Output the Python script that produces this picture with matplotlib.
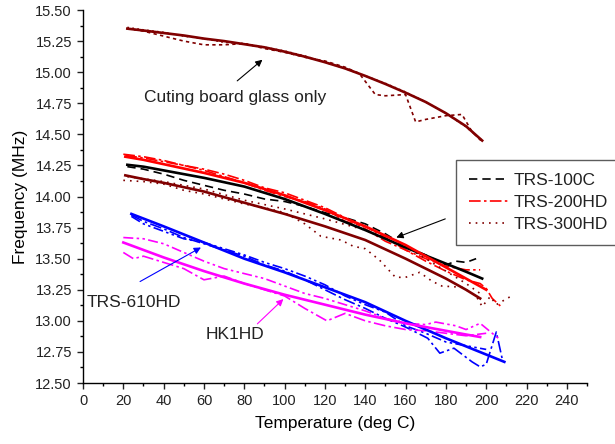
import matplotlib
matplotlib.use("Agg")
import matplotlib.pyplot as plt
from matplotlib.ticker import MultipleLocator, FormatStrFormatter

plt.rcParams['font.family'] = ['Liberation Sans', 'DejaVu Sans']

# ---- fitted (solid) curves ----
glass_fit_x = [22, 30, 40, 50, 60, 70, 80, 90, 100, 110, 120, 130, 140, 150, 160, 170, 180, 190, 198]
glass_fit_y = [15.35, 15.335, 15.315, 15.295, 15.27, 15.25, 15.225, 15.20, 15.165, 15.125, 15.08, 15.03,
               14.97, 14.905, 14.835, 14.76, 14.67, 14.565, 14.45]
black_fit_x = [22, 30, 40, 50, 60, 70, 80, 90, 100, 110, 120, 130, 140, 150, 160, 170, 180, 190, 198]
black_fit_y = [14.255, 14.24, 14.21, 14.18, 14.15, 14.115, 14.08, 14.03, 13.98, 13.92, 13.86, 13.795,
               13.73, 13.66, 13.59, 13.525, 13.46, 13.395, 13.34]
red_fit_x = [21, 30, 40, 50, 60, 70, 80, 90, 100, 110, 120, 130, 140, 150, 160, 170, 180, 190, 200]
red_fit_y = [14.32, 14.295, 14.26, 14.225, 14.19, 14.15, 14.11, 14.06, 14.01, 13.95, 13.89, 13.825,
             13.76, 13.685, 13.61, 13.52, 13.43, 13.34, 13.25]
dred_fit_x = [21, 30, 40, 50, 60, 70, 80, 90, 100, 110, 120, 130, 140, 150, 160, 170, 180, 190, 197]
dred_fit_y = [14.17, 14.14, 14.11, 14.075, 14.04, 13.995, 13.95, 13.905, 13.86, 13.81, 13.76, 13.705,
              13.65, 13.575, 13.50, 13.42, 13.34, 13.25, 13.18]
blue_fit_x = [24, 40, 60, 80, 100, 120, 140, 160, 180, 209]
blue_fit_y = [13.86, 13.76, 13.63, 13.50, 13.39, 13.27, 13.15, 13.00, 12.86, 12.67]
mag_fit_x = [20, 30, 40, 50, 60, 70, 80, 90, 100, 110, 120, 130, 140, 150, 160, 170, 180, 190, 197]
mag_fit_y = [13.63, 13.57, 13.51, 13.455, 13.40, 13.35, 13.30, 13.255, 13.21, 13.17, 13.13, 13.09,
             13.05, 13.015, 12.98, 12.95, 12.92, 12.89, 12.87]

# ---- measured series ----
glassA_x = [22, 30, 40, 50, 60, 70, 80, 90, 100, 110, 120, 130, 140, 150, 160, 170, 180, 190, 198]
glassA_y = [15.36, 15.34, 15.32, 15.29, 15.27, 15.24, 15.23, 15.20, 15.17, 15.13, 15.08, 15.03, 14.97, 14.91, 14.84, 14.76, 14.67, 14.56, 14.45]
glassB_x = [22, 30, 40, 50, 60, 70, 80, 90, 100, 110, 120, 130, 137, 145, 150, 160, 165, 170, 180, 188, 193, 198]
glassB_y = [15.35, 15.33, 15.29, 15.25, 15.22, 15.22, 15.23, 15.19, 15.16, 15.12, 15.09, 15.04, 14.99, 14.82, 14.81, 14.82, 14.60, 14.62, 14.65, 14.66, 14.52, 14.44]

black_m_x = [22, 30, 40, 50, 60, 70, 80, 90, 100, 110, 120, 130, 140, 150, 160, 170, 180, 185, 190, 195]
black_m_y = [14.24, 14.22, 14.18, 14.13, 14.09, 14.05, 14.02, 13.98, 13.96, 13.92, 13.87, 13.83, 13.78, 13.70, 13.60, 13.53, 13.45, 13.48, 13.47, 13.50]

red1_x = [20, 30, 40, 50, 60, 70, 80, 90, 100, 110, 120, 130, 140, 150, 160, 170, 180, 190, 197, 200, 203, 207]
red1_y = [14.34, 14.32, 14.29, 14.25, 14.21, 14.16, 14.11, 14.05, 14.00, 13.96, 13.90, 13.80, 13.76, 13.67, 13.57, 13.48, 13.40, 13.33, 13.30, 13.26, 13.18, 13.12]
red2_x = [21, 30, 40, 50, 60, 70, 80, 90, 100, 110, 120, 130, 140, 150, 160, 170, 180, 190, 197]
red2_y = [14.33, 14.31, 14.28, 14.25, 14.22, 14.18, 14.13, 14.07, 14.03, 13.97, 13.91, 13.83, 13.74, 13.64, 13.57, 13.50, 13.44, 13.41, 13.41]

dred1_x = [20, 30, 40, 50, 60, 70, 80, 90, 100, 110, 118, 128, 134, 140, 147, 151, 155, 160, 167, 173, 178, 188, 195, 198, 202, 205, 212]
dred1_y = [14.13, 14.12, 14.10, 14.05, 14.02, 13.98, 13.94, 13.91, 13.87, 13.78, 13.68, 13.65, 13.60, 13.58, 13.49, 13.42, 13.35, 13.35, 13.39, 13.32, 13.28, 13.27, 13.20, 13.115, 13.195, 13.13, 13.195]
dred2_x = [22, 40, 60, 80, 100, 120, 140, 160, 170, 180, 190, 197]
dred2_y = [14.16, 14.12, 14.06, 13.97, 13.90, 13.82, 13.73, 13.60, 13.50, 13.40, 13.30, 13.22]

blue1_x = [24, 30, 40, 50, 60, 70, 80, 90, 100, 110, 120, 130, 140, 150, 160, 171, 177, 184, 193, 197, 200, 205, 208]
blue1_y = [13.85, 13.80, 13.74, 13.67, 13.62, 13.57, 13.52, 13.45, 13.40, 13.33, 13.25, 13.17, 13.10, 13.02, 12.95, 12.86, 12.74, 12.78, 12.67, 12.63, 12.65, 12.91, 12.69]
blue2_x = [24, 30, 40, 50, 60, 70, 80, 90, 100, 110, 120, 130, 140, 150, 160, 170, 180, 190, 200]
blue2_y = [13.84, 13.78, 13.72, 13.66, 13.63, 13.58, 13.53, 13.47, 13.42, 13.36, 13.29, 13.20, 13.13, 13.07, 12.96, 12.90, 12.83, 12.80, 12.77]

mag1_x = [20, 30, 40, 50, 60, 70, 80, 90, 100, 110, 120, 130, 140, 150, 160, 170, 175, 185, 190, 197, 206]
mag1_y = [13.67, 13.66, 13.62, 13.55, 13.48, 13.42, 13.38, 13.34, 13.28, 13.22, 13.18, 13.13, 13.08, 13.02, 12.98, 12.97, 12.99, 12.96, 12.93, 12.98, 12.86]
mag2_x = [20, 25, 30, 40, 50, 60, 70, 80, 90, 100, 110, 121, 130, 140, 150, 160, 170, 180, 190, 200]
mag2_y = [13.55, 13.50, 13.52, 13.47, 13.42, 13.33, 13.36, 13.30, 13.25, 13.20, 13.10, 13.00, 13.06, 13.00, 12.96, 12.93, 12.92, 12.90, 12.88, 12.90]

legend_labels = ["TRS-100C", "TRS-200HD", "TRS-300HD"]

BLACK = "#000000"
RED = "#FF0000"
DRED = "#800000"
BLUE = "#0000FF"
MAG = "#FF00FF"
DASHDOTDOT = (0, (6, 2, 1.5, 2, 1.5, 2))

fig = plt.figure(figsize=(6.15, 4.44), dpi=100)
ax = fig.add_axes([83/615, 1-383/444, 504/615, 373/444])

mlw = 1.2
flw = 1.9
# measured
ax.plot(glassA_x, glassA_y, color=DRED, lw=mlw, ls=(0, (1, 2)))
ax.plot(glassB_x, glassB_y, color=DRED, lw=mlw, ls=(0, (2, 2)))
l1, = ax.plot(black_m_x, black_m_y, color=BLACK, lw=mlw, ls=(0, (5, 3)))
l2, = ax.plot(red1_x, red1_y, color=RED, lw=mlw, ls=(0, (7, 2, 1.5, 2)))
ax.plot(red2_x, red2_y, color=RED, lw=mlw, ls=(0, (7, 2, 1.5, 2)))
l3, = ax.plot(dred1_x, dred1_y, color=DRED, lw=mlw, ls=(0, (1, 3)))
ax.plot(dred2_x, dred2_y, color=DRED, lw=mlw, ls=(0, (1, 3)))
ax.plot(blue1_x, blue1_y, color=BLUE, lw=mlw, ls=(0, (7, 2, 1.5, 2)))
ax.plot(blue2_x, blue2_y, color=BLUE, lw=mlw, ls=DASHDOTDOT)
ax.plot(mag1_x, mag1_y, color=MAG, lw=mlw, ls=DASHDOTDOT)
ax.plot(mag2_x, mag2_y, color=MAG, lw=mlw, ls=(0, (7, 2, 1.5, 2)))

# fits
ax.plot(glass_fit_x, glass_fit_y, color=DRED, lw=flw)
ax.plot(black_fit_x, black_fit_y, color=BLACK, lw=flw)
ax.plot(red_fit_x, red_fit_y, color=RED, lw=flw)
ax.plot(dred_fit_x, dred_fit_y, color=DRED, lw=flw)
ax.plot(blue_fit_x, blue_fit_y, color=BLUE, lw=flw)
ax.plot(mag_fit_x, mag_fit_y, color=MAG, lw=flw)

ax.set_xlim(0, 250)
ax.set_ylim(12.5, 15.5)
ax.xaxis.set_major_locator(MultipleLocator(20))
ax.xaxis.set_minor_locator(MultipleLocator(10))
ax.yaxis.set_major_locator(MultipleLocator(0.25))
ax.yaxis.set_minor_locator(MultipleLocator(0.125))
ax.yaxis.set_major_formatter(FormatStrFormatter('%.2f'))
ax.set_xticks(list(range(0, 241, 20)))
ax.spines['top'].set_visible(False)
ax.spines['right'].set_visible(False)
for s in ('left', 'bottom'):
    ax.spines[s].set_linewidth(1.0)
ax.tick_params(which='major', direction='out', length=4.5, width=1.0, labelsize=10.5, colors='#222222')
ax.tick_params(which='minor', direction='out', length=2.5, width=1.0)

ax.set_xlabel("Temperature (deg C)", fontsize=12.5, labelpad=6)
ax.set_ylabel("Frequency (MHz)", fontsize=12.5, labelpad=5)

# annotations
arrow_k = dict(arrowstyle='-|>', color=BLACK, lw=0.8, mutation_scale=10, shrinkA=0, shrinkB=0)
ax.annotate("", xy=(89, 15.10), xytext=(76.5, 14.93), arrowprops=arrow_k)
ax.text(75.3, 14.80, "Cuting board glass only", fontsize=12.5, ha='center', va='center', color='#222222')
ax.annotate("", xy=(155.4, 13.67), xytext=(179.7, 13.82), arrowprops=arrow_k)
ax.annotate("", xy=(58.5, 13.59), xytext=(28.3, 13.316),
            arrowprops=dict(arrowstyle='-|>', color=BLUE, lw=0.8, mutation_scale=10, shrinkA=0, shrinkB=0))
ax.text(25.3, 13.145, "TRS-610HD", fontsize=12.5, ha='center', va='center', color='#222222')
ax.annotate("", xy=(99.4, 13.175), xytext=(86.5, 12.976),
            arrowprops=dict(arrowstyle='-|>', color=MAG, lw=0.8, mutation_scale=10, shrinkA=0, shrinkB=0))
ax.text(75.4, 12.89, "HK1HD", fontsize=12.5, ha='center', va='center', color='#222222')

leg = ax.legend([l1, l2, l3], legend_labels, loc='upper left', bbox_to_anchor=(0.74, 0.598),
                fontsize=12.5, frameon=True, fancybox=False, edgecolor='#333333',
                handlelength=2.3, handletextpad=0.3, borderpad=0.75, labelspacing=0.38,
                borderaxespad=0)
leg.get_frame().set_linewidth(1.0)
for t in leg.get_texts():
    t.set_color('#222222')

fig.savefig("out.png", dpi=100)
